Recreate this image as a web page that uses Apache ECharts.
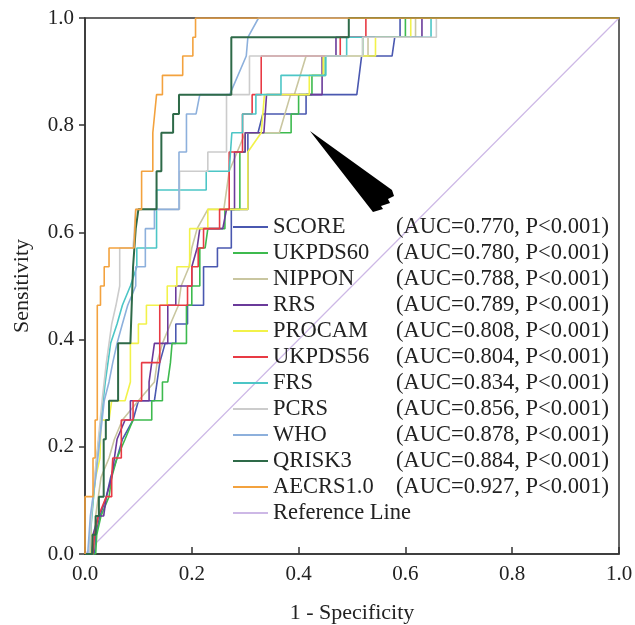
<!DOCTYPE html>
<html>
<head>
<meta charset="utf-8">
<script src="https://cdn.jsdelivr.net/npm/echarts@6/dist/echarts.min.js"></script>
<style>
  html, body { margin: 0; padding: 0; background: #fff; }
  #chart { width: 635px; height: 625px; }
</style>
</head>
<body>
<div id="chart"></div>
<script>
// ROC curves: [1 - specificity, sensitivity] vertices for each risk score
const scoreRoc = [[0,0],[0.018,0],[0.02,0.036],[0.028,0.071],[0.04,0.107],[0.048,0.143],[0.06,0.179],[0.07,0.214],[0.09,0.25],[0.1,0.286],[0.13,0.286],[0.135,0.321],[0.14,0.357],[0.15,0.393],[0.17,0.393],[0.17,0.429],[0.192,0.429],[0.192,0.464],[0.222,0.464],[0.222,0.536],[0.248,0.536],[0.248,0.571],[0.274,0.571],[0.274,0.643],[0.305,0.643],[0.305,0.786],[0.324,0.786],[0.333,0.821],[0.414,0.821],[0.414,0.857],[0.509,0.857],[0.518,0.929],[0.575,0.929],[0.58,0.964],[0.59,0.964],[0.59,1],[1,1]];
const ukpds60Roc = [[0,0],[0.02,0],[0.022,0.036],[0.03,0.071],[0.045,0.107],[0.05,0.143],[0.06,0.179],[0.075,0.214],[0.09,0.25],[0.125,0.25],[0.125,0.286],[0.145,0.286],[0.145,0.321],[0.155,0.321],[0.16,0.357],[0.163,0.393],[0.19,0.393],[0.19,0.464],[0.2,0.464],[0.2,0.5],[0.215,0.5],[0.215,0.571],[0.225,0.571],[0.23,0.607],[0.262,0.607],[0.262,0.643],[0.29,0.643],[0.29,0.75],[0.3,0.75],[0.3,0.786],[0.386,0.786],[0.386,0.821],[0.4,0.821],[0.4,0.857],[0.425,0.857],[0.425,0.893],[0.45,0.893],[0.45,0.929],[0.52,0.929],[0.52,0.964],[0.6,0.964],[0.6,1],[1,1]];
const nipponRoc = [[0,0],[0.015,0],[0.02,0.071],[0.03,0.143],[0.045,0.179],[0.055,0.214],[0.07,0.25],[0.1,0.286],[0.13,0.321],[0.135,0.357],[0.145,0.393],[0.16,0.429],[0.175,0.464],[0.18,0.5],[0.195,0.536],[0.2,0.571],[0.21,0.607],[0.23,0.643],[0.26,0.643],[0.27,0.714],[0.285,0.75],[0.3,0.786],[0.364,0.786],[0.385,0.857],[0.392,0.857],[0.414,0.929],[0.53,0.929],[0.53,0.964],[0.619,0.964],[0.619,1],[1,1]];
const rrsRoc = [[0,0],[0.012,0],[0.015,0.036],[0.025,0.071],[0.035,0.071],[0.04,0.107],[0.05,0.143],[0.055,0.179],[0.06,0.214],[0.075,0.25],[0.085,0.25],[0.085,0.286],[0.12,0.286],[0.12,0.321],[0.125,0.357],[0.13,0.393],[0.155,0.393],[0.155,0.464],[0.17,0.464],[0.17,0.5],[0.2,0.5],[0.2,0.536],[0.21,0.571],[0.215,0.607],[0.258,0.607],[0.265,0.643],[0.28,0.643],[0.28,0.75],[0.3,0.75],[0.3,0.786],[0.335,0.786],[0.34,0.857],[0.444,0.857],[0.444,0.929],[0.47,0.929],[0.47,0.964],[0.631,0.964],[0.631,1],[1,1]];
const procamRoc = [[0,0],[0.01,0],[0.012,0.071],[0.02,0.143],[0.028,0.179],[0.03,0.25],[0.045,0.25],[0.05,0.286],[0.075,0.286],[0.085,0.321],[0.085,0.393],[0.1,0.393],[0.1,0.429],[0.115,0.429],[0.115,0.464],[0.154,0.464],[0.154,0.5],[0.172,0.5],[0.172,0.536],[0.196,0.536],[0.196,0.607],[0.23,0.607],[0.23,0.643],[0.305,0.643],[0.305,0.75],[0.33,0.786],[0.336,0.857],[0.42,0.857],[0.42,0.893],[0.446,0.893],[0.446,0.929],[0.544,0.929],[0.544,0.964],[0.61,0.964],[0.61,1],[1,1]];
const ukpds56Roc = [[0,0],[0.015,0],[0.018,0.036],[0.025,0.071],[0.04,0.107],[0.05,0.107],[0.05,0.143],[0.052,0.143],[0.052,0.179],[0.068,0.179],[0.068,0.25],[0.09,0.25],[0.09,0.286],[0.106,0.286],[0.106,0.357],[0.14,0.357],[0.14,0.464],[0.192,0.464],[0.192,0.5],[0.2,0.5],[0.2,0.536],[0.212,0.536],[0.212,0.571],[0.222,0.571],[0.222,0.607],[0.252,0.607],[0.252,0.643],[0.27,0.643],[0.27,0.75],[0.295,0.75],[0.295,0.821],[0.313,0.821],[0.313,0.857],[0.33,0.857],[0.33,0.929],[0.478,0.929],[0.478,0.964],[0.526,0.964],[0.526,1],[1,1]];
const frsRoc = [[0,0],[0.008,0],[0.01,0.036],[0.016,0.107],[0.022,0.179],[0.03,0.25],[0.038,0.321],[0.048,0.393],[0.06,0.429],[0.07,0.464],[0.085,0.5],[0.097,0.536],[0.097,0.571],[0.134,0.571],[0.134,0.679],[0.227,0.679],[0.227,0.714],[0.27,0.714],[0.275,0.786],[0.295,0.786],[0.295,0.821],[0.32,0.821],[0.32,0.857],[0.367,0.857],[0.367,0.893],[0.451,0.893],[0.451,0.929],[0.49,0.929],[0.49,0.964],[0.648,0.964],[0.648,1],[1,1]];
const pcrsRoc = [[0,0],[0.008,0],[0.012,0.071],[0.018,0.143],[0.025,0.214],[0.032,0.286],[0.04,0.357],[0.05,0.429],[0.058,0.464],[0.065,0.5],[0.065,0.571],[0.09,0.571],[0.095,0.643],[0.177,0.643],[0.177,0.714],[0.23,0.714],[0.23,0.75],[0.265,0.75],[0.265,0.857],[0.308,0.857],[0.308,0.929],[0.52,0.929],[0.52,0.964],[0.658,0.964],[0.658,1],[1,1]];
const whoRoc = [[0,0],[0.005,0],[0.01,0.071],[0.02,0.143],[0.028,0.214],[0.036,0.286],[0.045,0.321],[0.052,0.357],[0.06,0.393],[0.07,0.429],[0.08,0.464],[0.095,0.5],[0.095,0.536],[0.113,0.536],[0.113,0.607],[0.13,0.607],[0.13,0.643],[0.176,0.643],[0.176,0.75],[0.19,0.75],[0.19,0.821],[0.208,0.821],[0.215,0.857],[0.271,0.857],[0.302,0.929],[0.305,0.964],[0.325,1],[1,1]];
const qrisk3Roc = [[0,0],[0.014,0],[0.014,0.036],[0.02,0.036],[0.02,0.071],[0.026,0.071],[0.026,0.107],[0.035,0.107],[0.035,0.214],[0.039,0.214],[0.039,0.25],[0.045,0.25],[0.045,0.286],[0.062,0.286],[0.062,0.393],[0.085,0.393],[0.09,0.536],[0.095,0.607],[0.1,0.643],[0.134,0.643],[0.134,0.714],[0.143,0.714],[0.143,0.786],[0.165,0.786],[0.165,0.821],[0.176,0.821],[0.176,0.857],[0.274,0.857],[0.274,0.964],[0.494,0.964],[0.494,1],[1,1]];
const aecrsRoc = [[0,0],[0,0.107],[0.015,0.107],[0.015,0.179],[0.019,0.179],[0.019,0.25],[0.023,0.25],[0.023,0.464],[0.029,0.464],[0.029,0.5],[0.036,0.5],[0.036,0.536],[0.045,0.536],[0.045,0.571],[0.092,0.571],[0.095,0.643],[0.106,0.643],[0.106,0.714],[0.127,0.714],[0.127,0.786],[0.134,0.857],[0.145,0.857],[0.145,0.893],[0.183,0.893],[0.183,0.929],[0.202,0.929],[0.202,0.964],[0.207,0.964],[0.207,1],[1,1]];
const referenceRoc = [[0,0],[1,1]];

const modelNames = ['SCORE','UKPDS60','NIPPON','RRS','PROCAM','UKPDS56','FRS','PCRS','WHO','QRISK3','AECRS1.0'];
const aucValues = ['0.770','0.780','0.788','0.789','0.808','0.804','0.834','0.856','0.878','0.884','0.927'];
const pValues = ['<0.001','<0.001','<0.001','<0.001','<0.001','<0.001','<0.001','<0.001','<0.001','<0.001','<0.001'];
const curves = [scoreRoc, ukpds60Roc, nipponRoc, rrsRoc, procamRoc, ukpds56Roc, frsRoc, pcrsRoc, whoRoc, qrisk3Roc, aecrsRoc];
const referenceName = 'Reference Line';
const axisTicks = [0, 0.2, 0.4, 0.6, 0.8, 1.0];

// Pointer arrow outline, in axis units
const arrowOutline = [[0.4213,0.7892],[0.5749,0.6791],[0.5787,0.6679],[0.5674,0.6623],[0.5712,0.6549],[0.5543,0.6493],[0.5581,0.6437],[0.5393,0.6381]];

const palette = ['#4a58b0','#3dba4e','#c9c6a0','#6a3a9a','#f2f24a','#e83a44','#4cc6c6','#cccccc','#8db0dc','#2e6a48','#f3a23e'];
const referenceColor = '#cdb8e6';
const FONT = '"Liberation Serif", "Times New Roman", serif';

const chart = echarts.init(document.getElementById('chart'), null, { renderer: 'canvas' });

const aucText = {};
modelNames.forEach((n, i) => { aucText[n] = '(AUC=' + aucValues[i] + ', P' + pValues[i] + ')'; });

const series = modelNames.map((name, i) => ({
  name: name,
  type: 'line',
  data: curves[i],
  showSymbol: false,
  symbol: 'none',
  animation: false,
  silent: true,
  lineStyle: { width: name === 'QRISK3' ? 2 : 1.6, color: palette[i] },
  itemStyle: { color: palette[i] },
  z: 2 + i
}));
series.push({
  name: referenceName,
  type: 'line',
  data: referenceRoc,
  showSymbol: false,
  symbol: 'none',
  animation: false,
  silent: true,
  lineStyle: { width: 1.2, color: referenceColor },
  itemStyle: { color: referenceColor },
  z: 1
});
series.push({
  type: 'custom',
  silent: true,
  animation: false,
  z: 20,
  data: [[0, 0]],
  renderItem: function (params, api) {
    return {
      type: 'polygon',
      shape: { points: arrowOutline.map(p => api.coord(p)) },
      style: { fill: '#000' }
    };
  }
});

const axisCommon = {
  type: 'value',
  min: 0,
  max: 1,
  interval: 0.2,
  splitLine: { show: false },
  axisLine: { show: true, lineStyle: { color: '#333', width: 1.5 } },
  axisLabel: {
    color: '#222',
    fontFamily: FONT,
    fontSize: 21,
    formatter: v => axisTicks.indexOf(Math.round(v * 10) / 10) >= 0 ? v.toFixed(1) : ''
  },
  nameLocation: 'middle',
  nameTextStyle: { color: '#222', fontFamily: FONT, fontSize: 22 }
};

chart.setOption({
  backgroundColor: '#fff',
  animation: false,
  grid: {
    left: 85, top: 18, width: 534, height: 536,
    outerBoundsMode: 'none',
    show: true, borderColor: '#333', borderWidth: 1.5, backgroundColor: 'transparent'
  },
  xAxis: Object.assign({}, axisCommon, {
    name: '1 - Specificity',
    nameGap: 48,
    axisTick: { show: true, inside: true, length: 7, lineStyle: { color: '#333', width: 1.5 } },
    axisLabel: Object.assign({}, axisCommon.axisLabel, { margin: 10 })
  }),
  yAxis: Object.assign({}, axisCommon, {
    name: 'Sensitivity',
    nameGap: 52,
    nameRotate: 90,
    axisTick: { show: true, inside: false, length: 6, lineStyle: { color: '#333', width: 1.5 } },
    axisLabel: Object.assign({}, axisCommon.axisLabel, { margin: 11 })
  }),
  legend: {
    orient: 'vertical',
    left: 233,
    top: 215.5,
    padding: 0,
    itemGap: 3,
    itemWidth: 35,
    itemHeight: 2,
    icon: 'rect',
    selectedMode: false,
    data: modelNames.concat([referenceName]),
    formatter: name => aucText[name] ? '{n|' + name + '}{a|' + aucText[name] + '}' : '{n|' + name + '}',
    textStyle: {
      color: '#222',
      fontFamily: FONT,
      fontSize: 22.5,
      lineHeight: 22,
      rich: {
        n: { width: 123, fontFamily: FONT, fontSize: 22.5, lineHeight: 22, color: '#222' },
        a: { fontFamily: FONT, fontSize: 22.5, lineHeight: 22, color: '#222' }
      }
    }
  },
  series: series
});
</script>
</body>
</html>
